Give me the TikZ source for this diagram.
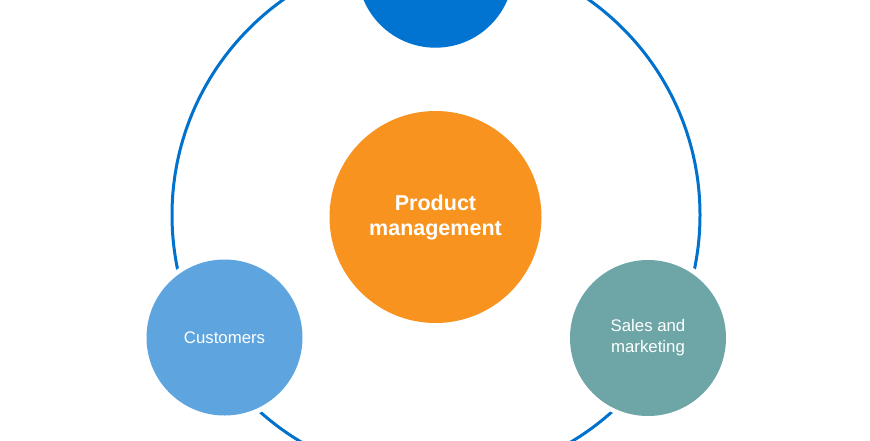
\documentclass[tikz,border=0pt]{standalone}
\usepackage{fontspec}
\setmainfont{Liberation Sans}
\definecolor{ringblue}{RGB}{0,114,206}
\definecolor{topblue}{RGB}{0,116,208}
\definecolor{custblue}{RGB}{94,165,224}
\definecolor{salesteal}{RGB}{110,166,168}
\definecolor{prodorange}{RGB}{247,147,30}
\begin{document}
\begin{tikzpicture}[x=1pt,y=-1pt,
  halo/.style={circle,fill=white,inner sep=0pt,minimum size=#1},
  blob/.style={circle,inner sep=0pt,minimum size=156pt,text=white,align=center,font=\fontsize{16.8}{21}\selectfont},
  ring/.style={draw=ringblue,line width=3pt}]
\useasboundingbox (0,0) rectangle (870,440);
\fill[white] (0,0) rectangle (870,440);
\coordinate (ctr) at (436,215);
\draw[ring] (ctr) circle[radius=264];
% halos (white gaps)
\node[halo=166pt] at (435.5,-30.3) {};
\node[halo=166pt] at (224.5,337.5) {};
\node[halo=166pt] at (648,337.5) {};
% circles
\node[blob,fill=topblue] (top) at (435.5,-30.3) {};
\node[blob,fill=custblue] (cust) at (224.5,337.5) {Customers};
\node[blob,fill=salesteal] (sales) at (648,338) {Sales and\\marketing};
\node[circle,inner sep=0pt,minimum size=212pt,fill=prodorange,text=white,align=center,
  font=\fontsize{21.5}{25}\selectfont\bfseries] (prod) at (435.5,217) {Product\\management};
\end{tikzpicture}
\end{document}
